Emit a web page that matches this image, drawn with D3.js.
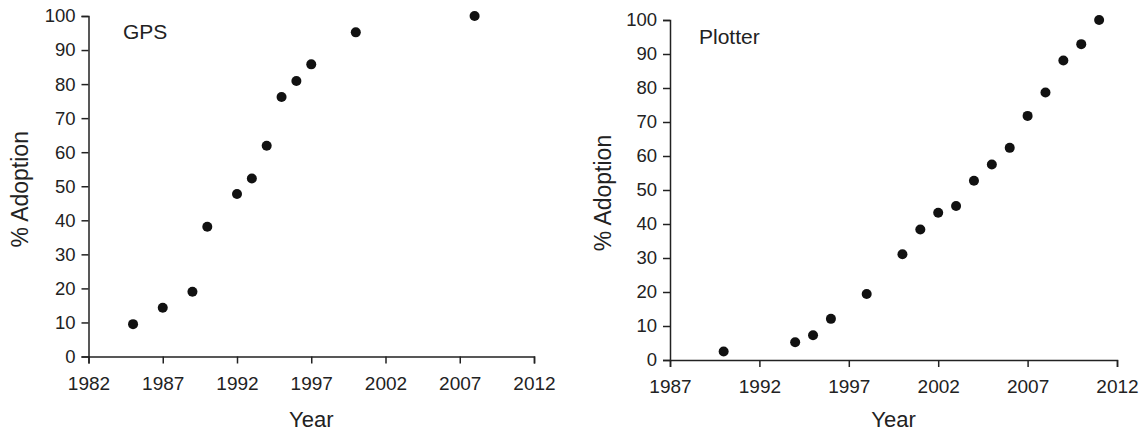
<!DOCTYPE html>
<html>
<head>
<meta charset="utf-8">
<script src="https://cdn.jsdelivr.net/npm/d3@7"></script>
<style>
  body { margin: 0; background: #fff; }
  svg text { font-family: "Liberation Sans", Arial, sans-serif; fill: #222; }
  .axis path, .axis line { stroke: #222; stroke-width: 1.5; }
</style>
</head>
<body>
<svg id="chart" width="1143" height="432"></svg>
<script>
// GPS adoption
let gpsYears = [1985, 1987, 1989, 1990, 1992, 1993, 1994, 1995, 1996, 1997, 2000, 2008];
let gpsValues = [9.5, 14.3, 19.0, 38.1, 47.7, 52.3, 61.9, 76.2, 80.9, 85.8, 95.2, 100];
let gpsTicks = [1982, 1987, 1992, 1997, 2002, 2007, 2012];

// Plotter adoption
let plotterYears = [1990, 1994, 1995, 1996, 1998, 2000, 2001, 2002, 2003, 2004, 2005, 2006, 2007, 2008, 2009, 2010, 2011];
let plotterValues = [2.5, 5.2, 7.3, 12.1, 19.4, 31.1, 38.4, 43.3, 45.3, 52.7, 57.5, 62.4, 71.8, 78.7, 88.1, 92.9, 100];
let plotterTicks = [1987, 1992, 1997, 2002, 2007, 2012];

let yTicks = [0, 10, 20, 30, 40, 50, 60, 70, 80, 90, 100];

let svg = d3.select("#chart");

let panels = [
  { name: "GPS", years: gpsYears, values: gpsValues, ticks: gpsTicks,
    x0: 88.5, x1: 534, y0: 356.5, y1: 16, labelX: 123, labelY: 39, ylabX: 20 },
  { name: "Plotter", years: plotterYears, values: plotterValues, ticks: plotterTicks,
    x0: 670, x1: 1117, y0: 360, y1: 20, labelX: 699, labelY: 44, ylabX: 603 }
];

panels.forEach(function(p) {
  var xScale = d3.scaleLinear()
    .domain([p.ticks[0], p.ticks[p.ticks.length - 1]])
    .range([p.x0, p.x1]);
  var yScale = d3.scaleLinear().domain([0, 100]).range([p.y0, p.y1]);

  // x axis
  var xg = svg.append("g")
    .attr("class", "axis")
    .attr("transform", `translate(0, ${p.y0})`)
    .call(d3.axisBottom(xScale).tickValues(p.ticks).tickFormat(d3.format("d")).tickSizeOuter(0).tickSize(7).tickPadding(13));
  xg.selectAll("text").style("font-size", "19px");

  // y axis
  var yg = svg.append("g")
    .attr("class", "axis")
    .attr("transform", `translate(${p.x0}, 0)`)
    .call(d3.axisLeft(yScale).tickValues(yTicks).tickSizeOuter(0).tickSize(7).tickPadding(6));
  yg.selectAll("text").style("font-size", "18.5px");

  // axis titles
  svg.append("text")
    .attr("x", (p.x0 + p.x1) / 2)
    .attr("y", 427)
    .style("text-anchor", "middle")
    .style("font-size", "22px")
    .text("Year");

  svg.append("text")
    .attr("transform", `translate(${p.ylabX + 8}, ${(p.y0 + p.y1) / 2 + 3}) rotate(-90)`)
    .style("text-anchor", "middle")
    .style("font-size", "23px")
    .text("% Adoption");

  // panel label
  svg.append("text")
    .attr("x", p.labelX)
    .attr("y", p.labelY)
    .style("font-size", "21px")
    .text(p.name);

  // points
  svg.append("g")
    .selectAll("circle")
    .data(p.years)
    .join("circle")
    .attr("cx", d => xScale(d))
    .attr("cy", (d, i) => yScale(p.values[i]))
    .attr("r", 5)
    .style("fill", "#111");
});
</script>
</body>
</html>
